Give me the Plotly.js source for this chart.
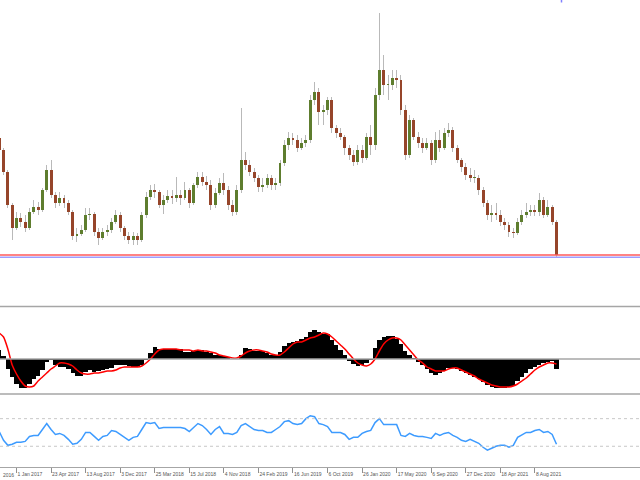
<!DOCTYPE html>
<html>
<head>
<meta charset="utf-8">
<script src="https://cdn.plot.ly/plotly-3.0.1.min.js"></script>
<style>html,body{margin:0;padding:0;background:#fff;}#chart{width:640px;height:480px;}</style>
</head>
<body>
<div id="chart"></div>
<script>
// Bi-weekly bars (dates are Sundays, 14 days apart, starting 6 Nov 2016)
const startDate = '2016-11-06';
const barCount = 130;

const openP = [162,150,128,95,72,82,78,72,88,93,
  90,110,130,105,97,102,97,88,64,66,
  70,85,86,68,62,68,70,78,85,72,
  64,60,64,60,85,103,110,108,95,100,
  104,102,105,102,110,97,115,123,118,115,
  95,107,117,110,95,88,110,140,135,128,
  122,113,115,122,115,117,137,155,162,160,
  152,157,160,200,208,188,190,200,172,167,
  163,152,145,138,150,142,163,155,205,230,
  215,215,222,220,190,145,180,163,157,152,
  157,140,160,152,167,170,152,140,133,125,
  122,122,110,97,85,87,85,78,75,68,
  67,78,85,88,90,88,100,85,93,78];
const highP = [183,152,130,97,88,87,85,92,100,98,
  112,135,140,108,108,105,100,90,72,75,
  92,92,88,72,72,75,82,90,88,74,
  68,68,67,88,108,115,116,110,105,110,
  110,123,110,118,112,117,128,128,124,120,
  112,122,127,114,100,115,192,148,140,132,
  125,122,126,125,122,140,160,168,167,165,
  162,165,205,218,212,195,203,203,175,172,
  165,155,150,155,155,167,175,212,287,245,
  225,230,230,225,195,185,182,168,162,162,
  160,168,170,172,177,173,155,142,137,132,
  130,125,113,100,95,97,90,82,78,72,
  82,90,97,95,95,107,103,100,95,80];
const lowP = [148,125,92,60,70,73,68,70,86,85,
  88,108,102,92,94,92,85,60,58,64,
  68,80,64,55,60,64,67,76,68,60,
  56,55,55,58,82,100,102,92,86,97,
  96,98,95,100,92,95,112,114,110,90,
  92,105,105,90,84,85,107,130,124,118,
  108,108,112,110,110,114,134,150,155,148,
  150,153,157,195,175,175,185,167,162,160,
  145,140,134,135,137,140,145,150,200,205,
  200,210,212,185,140,142,160,152,147,150,
  135,137,148,150,163,148,137,128,120,118,
  117,105,93,80,78,80,74,70,63,62,
  65,75,82,84,84,84,82,83,75,42];
const closeP = [150,128,95,72,82,78,72,88,93,90,
  110,130,105,97,102,97,88,64,66,70,
  85,86,68,62,68,70,78,85,72,64,
  60,64,60,85,103,110,108,95,100,104,
  102,105,102,110,97,115,123,118,115,95,
  107,117,110,95,88,110,140,135,128,122,
  113,115,122,115,117,137,155,162,160,152,
  157,160,200,208,188,190,200,172,167,163,
  152,145,138,150,142,163,155,205,230,215,
  215,222,220,190,145,180,163,157,152,157,
  140,160,152,167,170,152,140,133,125,122,
  122,110,97,85,87,85,78,75,68,67,
  78,85,88,90,88,100,85,93,78,45];

const macdHist = [9,3,-10,-18,-25,-29,-29,-25,-20,-17,
  -11,-3,-1,-6,-8,-8,-10,-14,-17,-17,
  -13,-11,-13,-12,-11,-10,-9,-6,-6,-6,
  -7,-8,-8,-6,-1,6,12,10,10,10,
  10,10,10,7,7,8,9,9,7,6,
  4,4,3,2,0,0,4,11,10,8,
  8,8,6,4,4,7,13,16,17,18,
  20,22,27,29,27,25,25,19,14,9,
  4,-2,-5,-7,-6,-4,-1,11,19,22,
  23,23,20,15,8,4,1,-3,-6,-10,
  -14,-16,-14,-12,-9,-9,-10,-12,-14,-16,
  -18,-20,-23,-26,-28,-29,-29,-29,-28,-27,
  -22,-18,-14,-10,-8,-6,-4,-3,-2,-10];
const macdSignal = [26,22,10,-6,-15,-22,-27,-28,-27,-22,
  -18,-14,-10,-7,-4,-4,-5,-7,-11,-14,
  -15,-15,-14,-14,-13,-12,-12,-11,-9,-8,
  -8,-8,-8,-7,-4,0,5,9,10,10,
  10,10,9,9,9,8,9,8,8,7,
  6,4,3,2,1,1,3,6,8,9,
  9,8,7,5,4,4,7,11,15,17,
  17,19,21,22,24,26,25,22,18,14,
  10,5,0,-4,-6,-7,-5,0,8,15,
  19,21,21,19,14,9,4,-1,-4,-8,
  -10,-12,-12,-12,-10,-9,-9,-11,-13,-15,
  -17,-20,-22,-24,-26,-27,-28,-28,-28,-27,
  -25,-22,-19,-15,-11,-8,-6,-4,-4,-5];
const rsiVals = [51.4,38.6,31.4,32.9,35.7,35.7,37.1,44.3,45.7,45.7,
  54.3,62.9,54.3,47.1,48.6,45.7,40,32.9,34.3,40,
  50,50,44.3,38.6,44.3,45.7,52.9,51.4,47.1,42.9,
  38.6,42.9,44.3,54.3,64.3,62.9,64.3,55.7,57.1,57.1,
  57.1,57.1,57.1,55.7,51.4,57.1,62.9,60,54.3,47.1,
  54.3,58.6,48.6,48.6,47.1,50,60,62.9,58.6,54.3,
  52.9,52.9,50,50,54.3,58.6,65.7,67.1,62.9,61.4,
  62.9,70,74.3,72.9,62.9,61.4,58.6,50,50,50,
  47.1,40,42.9,42.9,48.6,51.4,52.9,64.3,70,61.4,
  61.4,61.4,61.4,45.7,44.3,48.6,45.7,44.3,44.3,42.9,
  41.4,48.6,45.7,48.6,50,45.7,42.9,38.6,37.1,40,
  37.1,34.3,28.6,24.3,27.1,30,31.4,31.4,28.6,31.4,
  42.9,47.1,50,50,52.9,54.3,50,51.4,47.1,32.9];

const supportRed = 45;
const supportBlue = 42.7;
const rsiLevels = [70, 30];

const tickDates = ['2017-01-01','2017-04-23','2017-08-13','2017-12-03','2018-03-25','2018-07-15',
  '2018-11-04','2019-02-24','2019-06-16','2019-10-06','2020-01-26','2020-05-17','2020-09-06',
  '2020-12-27','2021-04-18','2021-08-08'];
const tickLabels = ['1 Jan 2017','23 Apr 2017','13 Aug 2017','3 Dec 2017','25 Mar 2018','15 Jul 2018',
  '4 Nov 2018','24 Feb 2019','16 Jun 2019','6 Oct 2019','26 Jan 2020','17 May 2020','6 Sep 2020',
  '27 Dec 2020','18 Apr 2021','8 Aug 2021'];
const edgeLabel = '2016';

// ---- build traces ----
const DAY = 86400000;
const t0 = Date.parse(startDate + 'T00:00:00Z');
const dates = [];
for (let i = 0; i < barCount; i++) dates.push(new Date(t0 + i * 14 * DAY).toISOString().slice(0, 10));

const bodyBase = [], bodyLen = [], bodyCol = [], wickLen = [];
for (let i = 0; i < barCount; i++) {
  bodyBase.push(Math.min(openP[i], closeP[i]));
  bodyLen.push(Math.max(Math.abs(closeP[i] - openP[i]), 0.8));
  bodyCol.push(closeP[i] >= openP[i] ? '#5e7d2e' : '#96452a');
  wickLen.push(highP[i] - lowP[i]);
}

const traces = [
  {type: 'bar', x: dates, y: wickLen, base: lowP, width: 3.2 * DAY,
   marker: {color: '#b9b9b9', line: {width: 0}}, xaxis: 'x', yaxis: 'y', hoverinfo: 'skip'},
  {type: 'bar', x: dates, y: bodyLen, base: bodyBase, width: 9.5 * DAY,
   marker: {color: bodyCol, line: {width: 0}}, xaxis: 'x', yaxis: 'y', hoverinfo: 'skip'},
  {type: 'bar', x: dates, y: macdHist, width: 14 * DAY,
   marker: {color: '#000000', line: {width: 0}}, xaxis: 'x', yaxis: 'y2'},
  {type: 'scatter', mode: 'lines', x: dates, y: macdSignal, line: {color: '#ff0000', width: 1.5, shape: 'spline', smoothing: 0.6},
   xaxis: 'x', yaxis: 'y2'},
  {type: 'scatter', mode: 'lines', x: dates, y: rsiVals, line: {color: '#3d9bff', width: 1.5},
   xaxis: 'x', yaxis: 'y3'}
];

function py(pix) { return 1 - pix / 480; }
const gray = '#a6a6a6';
const shapes = [
  {type: 'line', xref: 'paper', yref: 'y', x0: 0, x1: 1, y0: supportRed, y1: supportRed, line: {color: '#ff5a5a', width: 1.5}},
  {type: 'line', xref: 'paper', yref: 'y', x0: 0, x1: 1, y0: supportBlue, y1: supportBlue, line: {color: '#9d9dff', width: 1.5}},
  {type: 'line', xref: 'paper', yref: 'paper', x0: 0, x1: 1, y0: py(306.5), y1: py(306.5), line: {color: gray, width: 1.5}},
  {type: 'line', xref: 'paper', yref: 'y2', x0: 0, x1: 1, y0: 0, y1: 0, line: {color: gray, width: 1.5}},
  {type: 'line', xref: 'paper', yref: 'paper', x0: 0, x1: 1, y0: py(394), y1: py(394), line: {color: gray, width: 1.5}},
  {type: 'line', xref: 'paper', yref: 'y3', x0: 0, x1: 1, y0: rsiLevels[0], y1: rsiLevels[0], line: {color: '#c8c8c8', width: 1, dash: 'dot'}},
  {type: 'line', xref: 'paper', yref: 'y3', x0: 0, x1: 1, y0: rsiLevels[1], y1: rsiLevels[1], line: {color: '#c8c8c8', width: 1, dash: 'dot'}},
  {type: 'line', xref: 'paper', yref: 'paper', x0: 561.5/640, x1: 561.5/640, y0: 1, y1: py(2.5), line: {color: '#8080ff', width: 1.5}}
];

const hiddenY = {showgrid: false, zeroline: false, showticklabels: false, ticks: '', showline: false, fixedrange: true};
const tickFont = {family: 'Liberation Sans, Arial, sans-serif', size: 5, color: '#555555'};

const layout = {
  width: 640, height: 480,
  margin: {l: 0, r: 0, t: 0, b: 0},
  paper_bgcolor: '#ffffff', plot_bgcolor: '#ffffff',
  showlegend: false, barmode: 'overlay', bargap: 0,
  xaxis: {
    type: 'date', range: ['2016-11-08 12:45', '2022-07-14 14:00'],
    anchor: 'y3', showgrid: false, zeroline: false,
    showline: true, linecolor: gray, linewidth: 1,
    tickmode: 'array', tickvals: tickDates, ticktext: tickLabels,
    ticks: 'outside', ticklen: 5, tickcolor: '#909090', tickwidth: 1,
    tickangle: 0,
    ticklabelposition: 'outside right', ticklabelstandoff: 2,
    tickfont: tickFont
  },
  yaxis: Object.assign({domain: [py(306), 1], range: [-6, 300]}, hiddenY),
  yaxis2: Object.assign({domain: [py(394), py(307)], range: [-35, 52]}, hiddenY),
  yaxis3: Object.assign({domain: [py(467), py(394)], range: [0, 105.7]}, hiddenY),
  shapes: shapes,
  annotations: [
    {xref: 'paper', yref: 'paper', x: 0.5/640, y: py(475), xanchor: 'left', yanchor: 'middle',
     text: edgeLabel, showarrow: false, font: tickFont}
  ]
};

Plotly.newPlot('chart', traces, layout, {displayModeBar: false, staticPlot: true});
</script>
</body>
</html>
